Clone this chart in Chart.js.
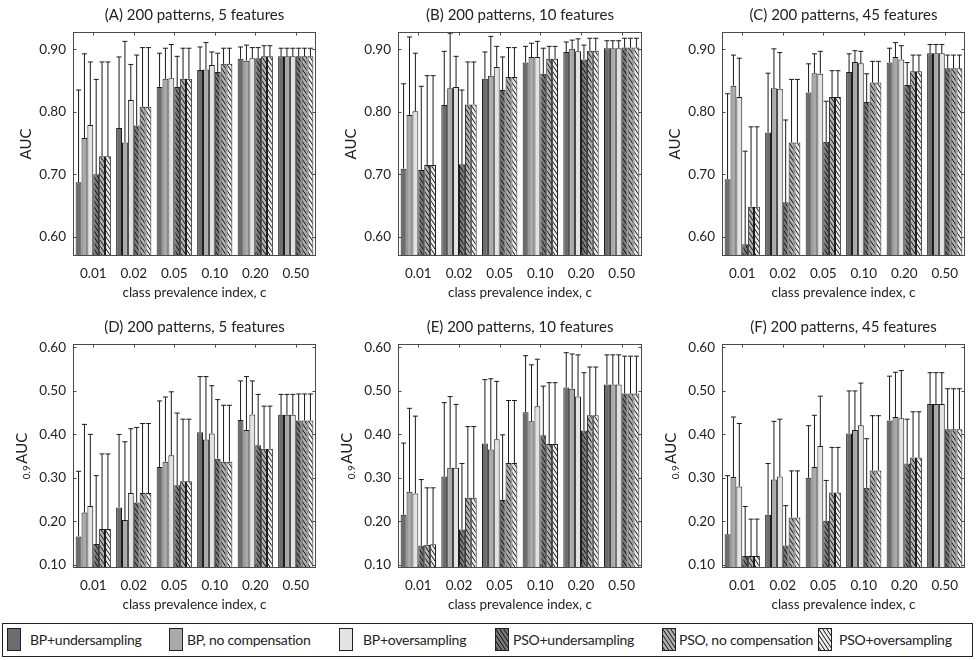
<!DOCTYPE html>
<html><head><meta charset="utf-8">
<script src="https://cdn.jsdelivr.net/npm/chart.js@4"></script>
<style>
html,body{margin:0;padding:0;background:#fff;width:976px;height:660px;overflow:hidden;font-family:Lato,"DejaVu Sans",sans-serif;}
canvas.panel{position:absolute;}
#legend{position:absolute;left:2px;top:623px;width:971px;height:34px;border:1px solid #222;box-sizing:border-box;background:#fff;}
</style></head>
<body>
<canvas id="cA" class="panel"></canvas>
<canvas id="cB" class="panel"></canvas>
<canvas id="cC" class="panel"></canvas>
<canvas id="cD" class="panel"></canvas>
<canvas id="cE" class="panel"></canvas>
<canvas id="cF" class="panel"></canvas>
<div id="legend"></div>
<script>
// ---------------- data ----------------
const categories = ['0.01','0.02','0.05','0.10','0.20','0.50'];
const seriesNames = ['BP+undersampling','BP, no compensation','BP+oversampling','PSO+undersampling','PSO, no compensation','PSO+oversampling'];
const panelTitles = ['(A) 200 patterns, 5 features','(B) 200 patterns, 10 features','(C) 200 patterns, 45 features',
                     '(D) 200 patterns, 5 features','(E) 200 patterns, 10 features','(F) 200 patterns, 45 features'];
const xAxisTitle = 'class prevalence index, c';
const yTicksAUC  = [0.60,0.70,0.80,0.90];
const yTicksPAUC = [0.10,0.20,0.30,0.40,0.50,0.60];

// rows follow seriesNames, columns follow categories
const meanA = [
 [0.687,0.774,0.840,0.867,0.885,0.889],
 [0.758,0.751,0.853,0.868,0.882,0.889],
 [0.779,0.819,0.854,0.875,0.886,0.889],
 [0.700,0.778,0.840,0.864,0.886,0.889],
 [0.729,0.808,0.853,0.877,0.889,0.889],
 [0.729,0.808,0.853,0.877,0.889,0.889]];
const upperA = [
 [0.835,0.888,0.894,0.904,0.904,0.902],
 [0.893,0.913,0.902,0.911,0.907,0.902],
 [0.880,0.876,0.908,0.896,0.903,0.902],
 [0.852,0.891,0.889,0.894,0.903,0.902],
 [0.880,0.903,0.902,0.902,0.906,0.902],
 [0.880,0.903,0.902,0.902,0.906,0.902]];

const meanB = [
 [0.709,0.811,0.853,0.879,0.896,0.902],
 [0.795,0.838,0.858,0.888,0.901,0.902],
 [0.801,0.840,0.872,0.888,0.897,0.902],
 [0.707,0.716,0.835,0.861,0.884,0.903],
 [0.715,0.812,0.856,0.885,0.898,0.903],
 [0.715,0.812,0.856,0.885,0.898,0.903]];
const upperB = [
 [0.845,0.897,0.896,0.905,0.912,0.914],
 [0.920,0.926,0.921,0.910,0.915,0.914],
 [0.894,0.889,0.905,0.913,0.917,0.914],
 [0.841,0.835,0.888,0.902,0.907,0.918],
 [0.858,0.880,0.903,0.905,0.918,0.918],
 [0.858,0.880,0.903,0.905,0.918,0.918]];

const meanC = [
 [0.692,0.767,0.831,0.864,0.879,0.894],
 [0.842,0.838,0.862,0.880,0.888,0.894],
 [0.824,0.837,0.861,0.878,0.884,0.894],
 [0.588,0.655,0.752,0.816,0.843,0.870],
 [0.648,0.751,0.824,0.847,0.865,0.870],
 [0.648,0.751,0.824,0.847,0.865,0.870]];
const upperC = [
 [0.829,0.862,0.877,0.893,0.902,0.908],
 [0.891,0.901,0.893,0.898,0.911,0.908],
 [0.886,0.895,0.897,0.897,0.906,0.908],
 [0.737,0.787,0.817,0.861,0.879,0.891],
 [0.776,0.852,0.866,0.881,0.891,0.891],
 [0.776,0.852,0.866,0.881,0.891,0.891]];

const meanD = [
 [0.165,0.232,0.325,0.405,0.433,0.445],
 [0.220,0.203,0.337,0.388,0.410,0.445],
 [0.235,0.265,0.352,0.402,0.446,0.445],
 [0.148,0.243,0.283,0.344,0.375,0.432],
 [0.182,0.265,0.292,0.337,0.367,0.432],
 [0.182,0.265,0.292,0.337,0.367,0.432]];
const upperD = [
 [0.315,0.400,0.477,0.533,0.523,0.492],
 [0.423,0.383,0.486,0.533,0.533,0.492],
 [0.400,0.413,0.498,0.512,0.523,0.492],
 [0.305,0.416,0.449,0.480,0.492,0.493],
 [0.355,0.425,0.435,0.467,0.465,0.493],
 [0.355,0.425,0.435,0.467,0.465,0.493]];

const meanE = [
 [0.215,0.303,0.379,0.451,0.508,0.515],
 [0.268,0.323,0.365,0.430,0.505,0.515],
 [0.264,0.323,0.389,0.465,0.487,0.515],
 [0.144,0.181,0.249,0.398,0.409,0.494],
 [0.146,0.254,0.334,0.378,0.444,0.494],
 [0.147,0.254,0.334,0.378,0.444,0.494]];
const upperE = [
 [0.380,0.473,0.526,0.581,0.588,0.583],
 [0.460,0.487,0.528,0.560,0.585,0.583],
 [0.442,0.469,0.522,0.573,0.583,0.583],
 [0.296,0.333,0.399,0.511,0.542,0.580],
 [0.277,0.418,0.478,0.519,0.555,0.580],
 [0.277,0.418,0.478,0.519,0.555,0.580]];

const meanF = [
 [0.170,0.215,0.300,0.402,0.432,0.470],
 [0.302,0.296,0.325,0.410,0.440,0.470],
 [0.280,0.303,0.373,0.421,0.437,0.470],
 [0.120,0.144,0.201,0.277,0.333,0.412],
 [0.120,0.209,0.266,0.317,0.347,0.412],
 [0.120,0.209,0.266,0.317,0.347,0.412]];
const upperF = [
 [0.305,0.333,0.420,0.500,0.534,0.542],
 [0.440,0.430,0.444,0.500,0.543,0.542],
 [0.425,0.435,0.488,0.518,0.547,0.542],
 [0.234,0.236,0.294,0.390,0.435,0.505],
 [0.205,0.316,0.370,0.443,0.452,0.505],
 [0.205,0.316,0.370,0.443,0.452,0.505]];

// ---------------- styling ----------------
const FONT = 'Lato';
const solidColors = ['#6d6d6d','#a9a9a9','#e3e3e3'];
const hatchBg     = ['#777777','#b0b0b0','#ececec'];

function hatchTile(bg){
  const w=4,h=6;
  const c=document.createElement('canvas'); c.width=w; c.height=h;
  const g=c.getContext('2d');
  g.fillStyle=bg; g.fillRect(0,0,w,h);
  g.strokeStyle='#111'; g.lineWidth=1;
  g.beginPath();
  for(const k of [-1,0,1]){ g.moveTo(k*w-w,-h); g.lineTo(k*w+2*w,2*h); }
  g.stroke();
  return c;
}
const patCtx=document.createElement('canvas').getContext('2d');
function makeFill(i){
  if(i<3) return solidColors[i];
  return patCtx.createPattern(hatchTile(hatchBg[i-3]),'repeat');
}
const fills=[0,1,2,3,4,5].map(makeFill);

// frame (box + inward ticks), error bars, y title
const framePlugin={
  id:'frame',
  afterDatasetsDraw(chart,args,opts){
    const {ctx,chartArea:a,scales}=chart;
    chart.data.datasets.forEach((ds,i)=>{
      const meta=chart.getDatasetMeta(i);
      meta.data.forEach((el,j)=>{
        const yTop=el.y, yHi=scales.y.getPixelForValue(ds.upper[j]);
        const x=el.x;
        ctx.save();
        ctx.strokeStyle='#1a1a1a'; ctx.lineWidth=1;
        ctx.beginPath();
        ctx.moveTo(x,yTop); ctx.lineTo(x,yHi);
        ctx.moveTo(x-2.5,yHi); ctx.lineTo(x+2.5,yHi);
        ctx.stroke();
        ctx.restore();
      });
    });
    ctx.save();
    ctx.strokeStyle='#4a4a4a'; ctx.lineWidth=1;
    const L=Math.round(a.left)+0.5,R=Math.round(a.right)-0.5,T=Math.round(a.top)+0.5,B=Math.round(a.bottom)-0.5;
    ctx.strokeRect(L,T,R-L,B-T);
    ctx.beginPath();
    scales.y.ticks.forEach(t=>{
      const y=Math.round(scales.y.getPixelForValue(t.value))+0.5;
      ctx.moveTo(L,y); ctx.lineTo(L+3,y);
      ctx.moveTo(R,y); ctx.lineTo(R-3,y);
    });
    categories.forEach((c,k)=>{
      const x=Math.round(scales.x.getPixelForValue(k))+0.5;
      ctx.moveTo(x,T); ctx.lineTo(x,T+3);
      ctx.moveTo(x,B); ctx.lineTo(x,B-3);
    });
    ctx.stroke();
    const cy=(a.top+a.bottom)/2;
    ctx.translate(opts.titleX,cy);
    ctx.rotate(-Math.PI/2);
    ctx.fillStyle='#222';
    ctx.textBaseline='alphabetic';
    const MF='15px '+FONT, SF='10px '+FONT;
    ctx.font=MF;
    const mw=ctx.measureText(opts.text).width;
    let sw=0;
    if(opts.sub){ ctx.font=SF; sw=ctx.measureText(opts.sub).width+1.5; }
    const x0=-(mw+sw)/2;
    if(opts.sub){ ctx.font=SF; ctx.fillText(opts.sub,x0,8); }
    ctx.font=MF;
    ctx.fillText(opts.text,x0+sw,5);
    ctx.restore();
  }
};

function makePanel(id,title,means,uppers,yMin,yMax,yTicks,sub,g){
  const cv=document.getElementById(id);
  cv.width=g.w; cv.height=g.h;
  cv.style.left=g.left+'px'; cv.style.top=g.top+'px';
  cv.style.width=g.w+'px'; cv.style.height=g.h+'px';
  const datasets=seriesNames.map((n,i)=>({
    label:n,
    data:means[i],
    upper:uppers[i],
    backgroundColor:fills[i],
    borderColor:'#1e1e1e',
    borderWidth:1,
    categoryPercentage:0.87,
    barPercentage:1.0
  }));
  return new Chart(cv,{
    type:'bar',
    data:{labels:categories,datasets},
    plugins:[framePlugin],
    options:{
      responsive:false,animation:false,devicePixelRatio:1,
      layout:{padding:{left:0,right:g.padR,top:0,bottom:0}},
      plugins:{
        legend:{display:false},tooltip:{enabled:false},
        title:{display:true,text:title,fullSize:false,color:'#222',font:{family:FONT,size:15,weight:'normal'},padding:{top:6,bottom:8}},
        frame:{text:'AUC',sub:sub,titleX:g.titleX}
      },
      scales:{
        x:{
          grid:{display:false,drawTicks:false},border:{display:false},
          ticks:{color:'#222',font:{family:FONT,size:13.5},padding:10,maxRotation:0},
          title:{display:true,text:xAxisTitle,color:'#222',font:{family:FONT,size:13.5},padding:{top:0,bottom:5}},
          afterFit(s){s.height=g.h-256;}
        },
        y:{
          min:yMin,max:yMax,
          grid:{display:false,drawTicks:false},border:{display:false},
          ticks:{color:'#222',font:{family:FONT,size:13.5},padding:7,callback:v=>Number(v).toFixed(2)},
          afterBuildTicks(s){s.ticks=yTicks.map(v=>({value:v}));},
          afterFit(s){s.width=g.yW;}
        }
      }
    }
  });
}

const topMin=0.569, topMax=0.928, botMin=0.0925, botMax=0.608;
makePanel('cA',panelTitles[0],meanA,upperA,topMin,topMax,yTicksAUC,'',{left:0,top:0,w:325,h:306,yW:73,padR:9,titleX:26});
makePanel('cB',panelTitles[1],meanB,upperB,topMin,topMax,yTicksAUC,'',{left:325,top:0,w:325,h:306,yW:73,padR:8,titleX:26});
makePanel('cC',panelTitles[2],meanC,upperC,topMin,topMax,yTicksAUC,'',{left:650,top:0,w:326,h:306,yW:72,padR:11,titleX:25});
makePanel('cD',panelTitles[3],meanD,upperD,botMin,botMax,yTicksPAUC,'0.9',{left:0,top:312,w:325,h:306,yW:73,padR:9,titleX:22});
makePanel('cE',panelTitles[4],meanE,upperE,botMin,botMax,yTicksPAUC,'0.9',{left:325,top:312,w:325,h:306,yW:73,padR:8,titleX:22});
makePanel('cF',panelTitles[5],meanF,upperF,botMin,botMax,yTicksPAUC,'0.9',{left:650,top:312,w:326,h:306,yW:72,padR:11,titleX:21});

// legend
const legendSwatchX=[4,166,336,492,659,815];
const legendTextX=[27,184,360,510,676,836];
const lg=document.getElementById('legend');
seriesNames.forEach((n,i)=>{
  const sw=document.createElement('canvas');
  sw.width=14; sw.height=23;
  sw.style.left=legendSwatchX[i]+'px'; sw.style.top='4px'; sw.style.position='absolute';
  const g=sw.getContext('2d');
  g.fillStyle=fills[i]; g.fillRect(0,0,14,23);
  g.strokeStyle='#222'; g.lineWidth=1; g.strokeRect(0.5,0.5,13,22);
  lg.appendChild(sw);
  const t=document.createElement('span');
  t.textContent=n;
  t.style.position='absolute'; t.style.left=legendTextX[i]+'px'; t.style.top='0px';
  t.style.lineHeight='32px'; t.style.fontSize='14px'; t.style.letterSpacing='-0.25px';
  t.style.color='#222'; t.style.whiteSpace='nowrap';
  lg.appendChild(t);
});
</script>
</body></html>
